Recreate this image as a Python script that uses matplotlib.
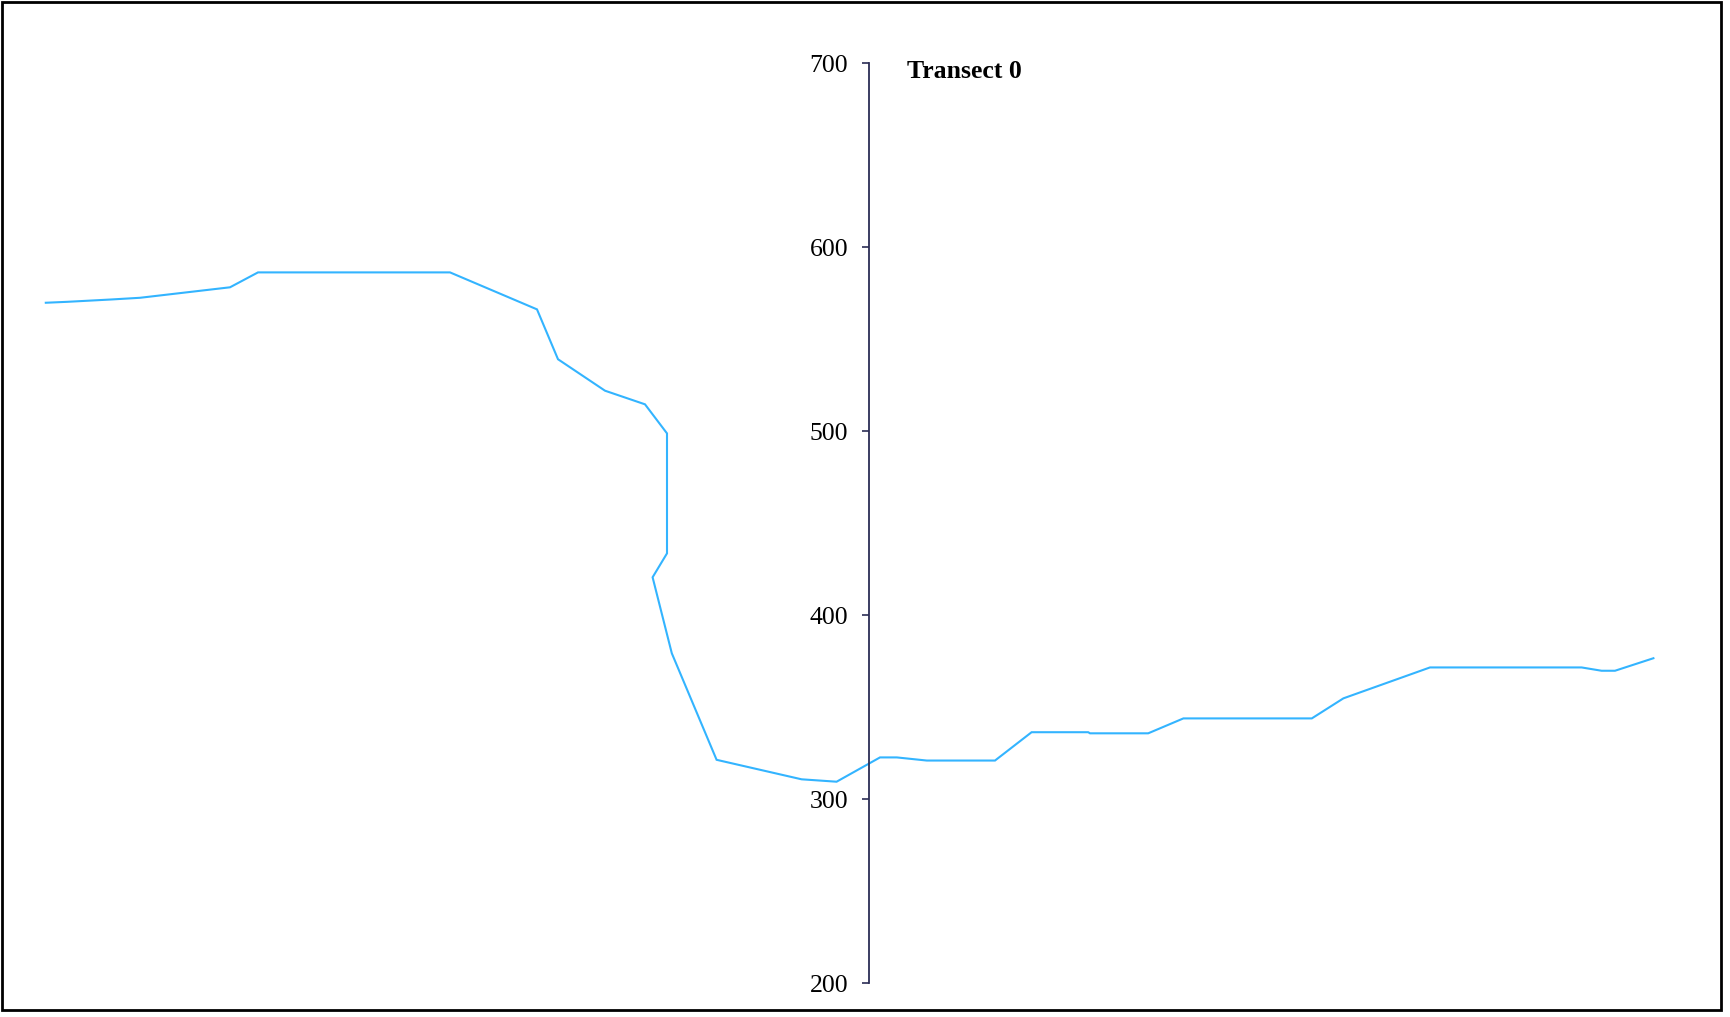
import numpy as np
import matplotlib.pyplot as plt
from matplotlib.patches import Rectangle

# profil du transect : distance (m) / altitude
distance = [-411.6, -401.0, -378.5, -364.5, -319.5, -305.5, -209.5, -166.0,
            -155.5, -132.0, -112.0, -101.0, -101.0, -108.2, -98.6, -76.2,
            -33.7, -16.2, 5.5, 13.9, 28.9, 63.0, 81.3, 109.6, 110.5, 139.6,
            157.2, 221.4, 237.2, 280.5, 356.3, 366.3, 373.0, 392.2]
altitude = [569.7, 570.2, 571.5, 572.4, 578.1, 586.2, 586.2, 566.1,
            539.0, 521.9, 514.5, 498.7, 433.5, 420.5, 379.2, 321.3,
            310.7, 309.4, 322.6, 322.6, 320.9, 320.9, 336.3, 336.3, 335.7, 335.7,
            343.8, 343.8, 354.7, 371.5, 371.5, 369.7, 369.7, 376.5]
yticks = [200, 300, 400, 500, 600, 700]
titre = "Transect 0"

W, H = 1731, 1017
fig = plt.figure(figsize=(W / 100, H / 100), dpi=100)
ax = fig.add_axes([0, 1 - 983 / H, 1, (983 - 63) / H])

ax.plot(distance, altitude, color="#33b4ff", lw=1.5, solid_joinstyle="miter")

ax.set_xlim(-869 / 2, (W - 869) / 2)
ax.set_ylim(200, 700)
ax.set_yticks(yticks)

for s in ["top", "right", "bottom"]:
    ax.spines[s].set_visible(False)
ax.spines["left"].set_position(("data", 0))
ax.spines["left"].set_color("#2b2d55")
ax.spines["left"].set_linewidth(1.3)
ax.set_xticks([])
ax.tick_params(axis="y", direction="out", length=5, width=1.2, color="#2b2d55",
               pad=10, labelsize=18.5, labelcolor="black")
for lab in ax.get_yticklabels():
    lab.set_family("Liberation Serif")

# titre place en pixels (origine en bas a gauche)
fig.text(907 / W, 1 - 60 / H, titre, fontsize=18.5, fontweight="bold",
         family="Liberation Serif", va="top", ha="left")

fig.patches.append(Rectangle((2 / W, 1 - 1010 / H), (1721 - 2) / W, (1010 - 2) / H,
                             transform=fig.transFigure, fill=False,
                             edgecolor="black", lw=2))

fig.savefig("out.png", dpi=100)
